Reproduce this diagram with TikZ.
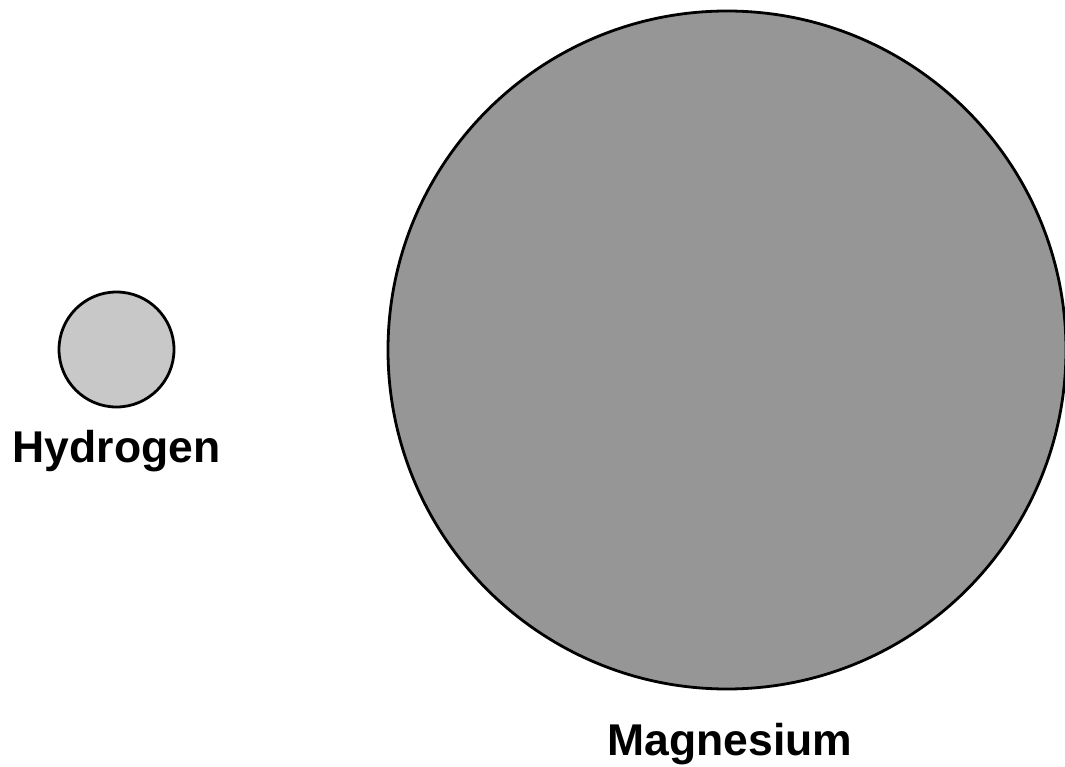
\documentclass[tikz,border=0pt]{standalone}
\usepackage{fontspec}
\setmainfont{Liberation Sans}
\definecolor{hfill}{RGB}{200,200,200}
\definecolor{mgfill}{RGB}{150,150,150}
\begin{document}
\begin{tikzpicture}[x=1pt,y=-1pt,
  atom/.style={circle,draw=black,line width=2.8pt,inner sep=0pt},
  lbl/.style={anchor=base,inner sep=0pt,font=\fontsize{44.5}{48}\selectfont\bfseries}]
\useasboundingbox (0,0) rectangle (1065,767);
\node[atom,fill=hfill,minimum size=115] (h) at (116.5,349.5) {};
\node[atom,fill=mgfill,minimum size=678] (mg) at (727,350) {};
\node[lbl] (ht) at (116.5,462) {Hydrogen};
\node[lbl] (mt) at (730,755) {Magnesium};
\end{tikzpicture}
\end{document}
